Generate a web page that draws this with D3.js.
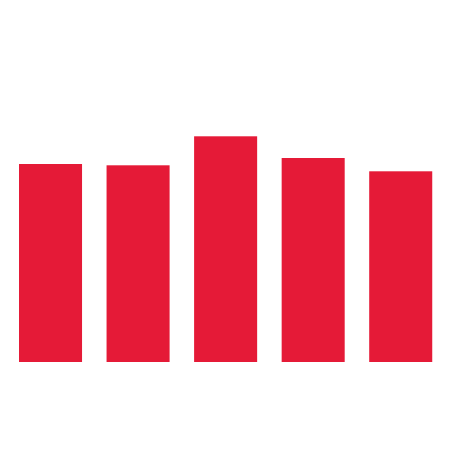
<!DOCTYPE html>
<html><head><meta charset="utf-8">
<script src="https://cdn.jsdelivr.net/npm/d3@7"></script>
<style>html,body{margin:0;padding:0;background:#fff}svg{display:block}</style>
</head><body><svg id="c" width="451" height="450"></svg>
<script>
const categories = ["A","B","C","D","E"];
const values = [198, 196.7, 225.7, 204, 190.7];
const svg = d3.select("#c");
const x = d3.scaleBand().domain(categories).range([6.75, 444.5]).paddingInner(0.28).paddingOuter(0.14);
const y = d3.scaleLinear().domain([0, 300]).range([362, 62]);
svg.selectAll("rect").data(values).join("rect")
  .attr("x",(d,i)=>x(categories[i]))
  .attr("width",x.bandwidth())
  .attr("y",d=>y(d))
  .attr("height",d=>y(0)-y(d))
  .attr("fill","#e51a37");
</script></body></html>
